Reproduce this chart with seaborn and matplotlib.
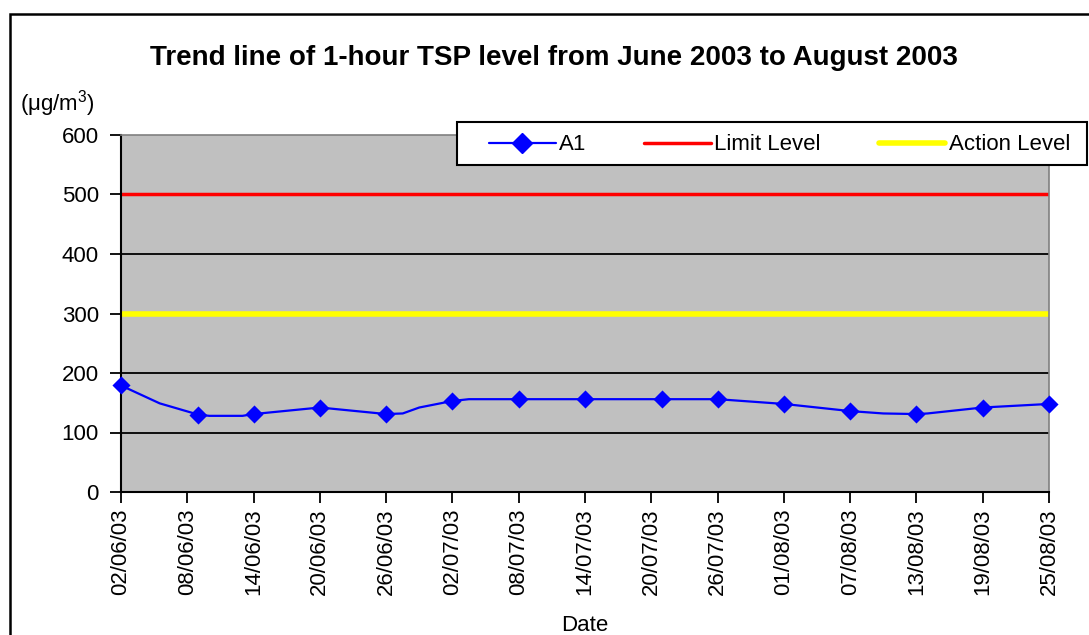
import matplotlib
matplotlib.use("Agg")
import matplotlib.pyplot as plt
import matplotlib.dates as mdates
from matplotlib.patches import Rectangle
from matplotlib.lines import Line2D
import seaborn as sns
import pandas as pd

# ---- data ----
marker_dates = ["2003-06-02", "2003-06-09", "2003-06-14", "2003-06-20", "2003-06-26",
                "2003-07-02", "2003-07-08", "2003-07-14", "2003-07-21", "2003-07-26",
                "2003-08-01", "2003-08-07", "2003-08-13", "2003-08-19", "2003-08-25"]
marker_values = [179, 130, 131, 142, 131, 153, 156, 156, 156, 156, 148, 136, 131, 142, 148]

# vertices of the drawn (smoothed) trend line
line_dates = ["2003-06-02 00:00", "2003-06-05 12:00", "2003-06-09 00:00", "2003-06-10 00:00",
              "2003-06-13 00:00", "2003-06-14 00:00", "2003-06-20 00:00", "2003-06-26 00:00",
              "2003-06-27 12:00", "2003-06-29 00:00", "2003-07-02 00:00", "2003-07-03 12:00",
              "2003-07-08 00:00", "2003-07-14 00:00", "2003-07-21 00:00", "2003-07-26 00:00",
              "2003-08-01 00:00", "2003-08-07 00:00", "2003-08-10 00:00", "2003-08-13 00:00",
              "2003-08-14 00:00", "2003-08-19 00:00", "2003-08-25 00:00"]
line_values = [179, 149, 130, 128, 128, 131, 142, 131, 132, 142,
               153, 156, 156, 156, 156, 156, 148, 136, 132, 131,
               132, 142, 148]

limit_level = 500
action_level = 300
y_ticks = [0, 100, 200, 300, 400, 500, 600]
x_start, x_end = "2003-06-02", "2003-08-25"

title = "Trend line of 1-hour TSP level from June 2003 to August 2003"

# ---- plot ----
sns.set_theme(style="white")
plt.rcParams["font.family"] = ["Liberation Sans", "DejaVu Sans"]
plt.rcParams["text.color"] = "black"
plt.rcParams["xtick.color"] = "black"
plt.rcParams["ytick.color"] = "black"
plt.rcParams["axes.labelcolor"] = "black"

W, H = 1089, 635
FS = 16
fig = plt.figure(figsize=(W / 100, H / 100), dpi=100)
ax = fig.add_axes([121 / W, 1 - 492 / H, (1049 - 121) / W, (492 - 135) / H])
ax.set_facecolor("#C0C0C0")

df_m = pd.DataFrame({"date": pd.to_datetime(marker_dates), "val": marker_values})
df_l = pd.DataFrame({"date": pd.to_datetime(line_dates, format="%Y-%m-%d %H:%M"),
                     "val": line_values})
xs = pd.to_datetime([x_start, x_end])

for yv in y_ticks[1:-1]:
    ax.axhline(yv, color="black", lw=1.3, zorder=1)

sns.lineplot(data=pd.DataFrame({"date": xs, "val": [action_level] * 2}), x="date", y="val",
             ax=ax, color="#FFFF00", lw=4, zorder=2)
sns.lineplot(data=pd.DataFrame({"date": xs, "val": [limit_level] * 2}), x="date", y="val",
             ax=ax, color="#FF0000", lw=2.5, zorder=2)
sns.lineplot(data=df_l, x="date", y="val", ax=ax, color="#0000FF", lw=1.6, zorder=3)
sns.scatterplot(data=df_m, x="date", y="val", ax=ax, color="#0000FF", marker="D",
                s=85, edgecolor="#0000FF", linewidth=0, zorder=4, clip_on=False)

ax.set_xlim(xs[0], xs[1])
ax.set_ylim(0, 600)
ax.set_yticks(y_ticks)
ax.set_xticks(pd.date_range(x_start, x_end, freq="6D"))
ax.xaxis.set_major_formatter(mdates.DateFormatter("%d/%m/%y"))
ax.tick_params(axis="x", rotation=90, labelsize=FS, length=8, width=1.3, color="black",
               direction="out", pad=4, bottom=True)
ax.tick_params(axis="y", labelsize=FS, length=8, width=1.3, color="black",
               direction="out", pad=8, left=True)
ax.set_xlabel("Date", fontsize=FS, labelpad=14)
ax.set_ylabel("")
for s in ["left", "bottom"]:
    ax.spines[s].set_color("black")
    ax.spines[s].set_linewidth(1.5)
for s in ["top", "right"]:
    ax.spines[s].set_color("#808080")
    ax.spines[s].set_linewidth(1.2)
ax.grid(False)

# outer frame
fig.patches.append(Rectangle((10 / W, -0.1), 1.2, 1 - 14 / H + 0.1, transform=fig.transFigure,
                             fill=False, edgecolor="black", lw=1.8, zorder=0))

fig.text(554 / W, 1 - 58 / H, title, ha="center", va="center", fontsize=20,
         fontweight="bold")
fig.text(20 / W, 1 - 104 / H, r"($\mathregular{\mu}$g/m$^{\mathregular{3}}$)", ha="left",
         va="center", fontsize=FS)

# legend
fig.patches.append(Rectangle((457 / W, 1 - 165 / H), (1087 - 457) / W, (165 - 122) / H,
                             transform=fig.transFigure, facecolor="white",
                             edgecolor="black", lw=1.5, zorder=5))
handles = [Line2D([], [], color="#0000FF", lw=1.6, marker="D", markersize=10),
           Line2D([], [], color="#FF0000", lw=2.5),
           Line2D([], [], color="#FFFF00", lw=4)]
leg = fig.legend(handles, ["A1", "Limit Level", "Action Level"], ncol=3, frameon=False,
                 loc="center left", bbox_to_anchor=(478 / W, 1 - 145 / H), fontsize=FS,
                 handlelength=3.0, handletextpad=0.15, columnspacing=2.6, borderpad=0)
leg.set_zorder(6)

fig.savefig("out.png", dpi=100)
